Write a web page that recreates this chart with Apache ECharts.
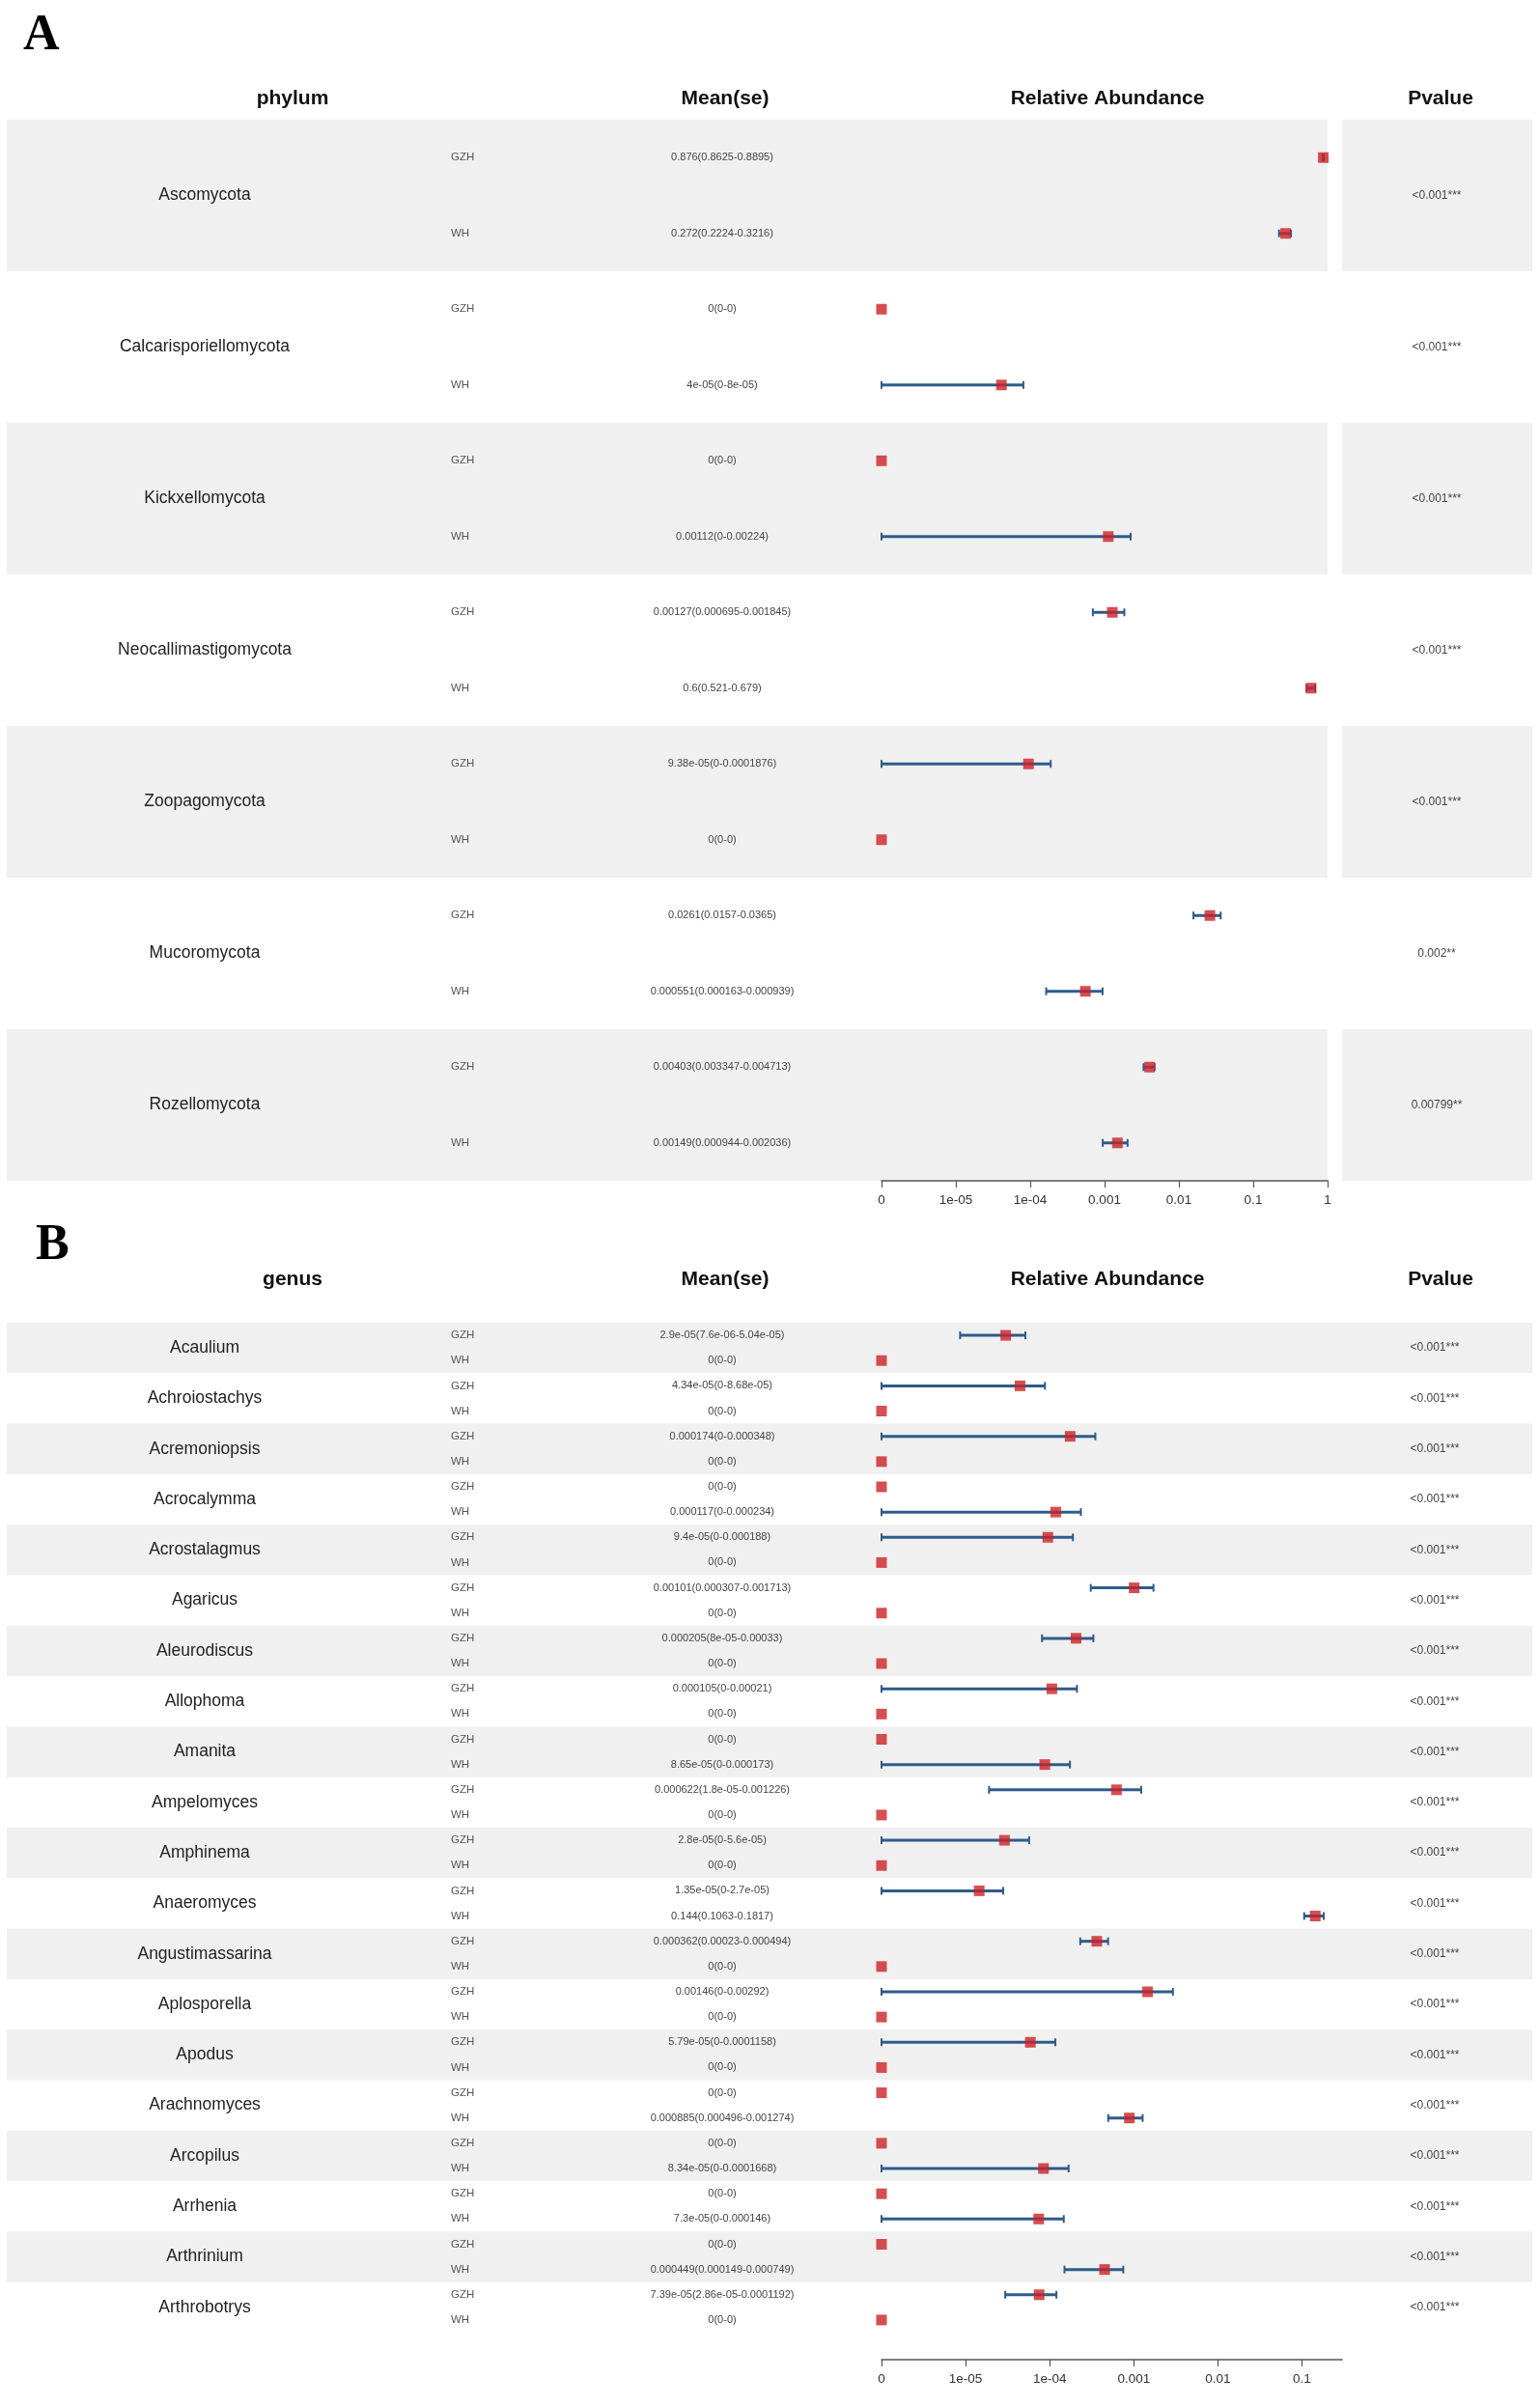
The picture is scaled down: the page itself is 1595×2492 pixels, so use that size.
<!DOCTYPE html>
<html>
<head>
<meta charset="utf-8">
<script src="https://cdn.jsdelivr.net/npm/echarts@6/dist/echarts.min.js"></script>
<style>
html,body{margin:0;padding:0;background:#fff;}
#chart{width:1595px;height:2492px;}
</style>
</head>
<body>
<div id="chart"></div>
<script>
// ---------- Panel A data (phylum) ----------
const phyla = ['Ascomycota','Calcarisporiellomycota','Kickxellomycota','Neocallimastigomycota','Zoopagomycota','Mucoromycota','Rozellomycota'];
const phylumGzhMean = [0.876, 0, 0, 0.00127, 9.38e-05, 0.0261, 0.00403];
const phylumGzhLow  = [0.8625, 0, 0, 0.000695, 0, 0.0157, 0.003347];
const phylumGzhHigh = [0.8895, 0, 0, 0.001845, 0.0001876, 0.0365, 0.004713];
const phylumWhMean  = [0.272, 4e-05, 0.00112, 0.6, 0, 0.000551, 0.00149];
const phylumWhLow   = [0.2224, 0, 0, 0.521, 0, 0.000163, 0.000944];
const phylumWhHigh  = [0.3216, 8e-05, 0.00224, 0.679, 0, 0.000939, 0.002036];
const phylumP = ['<0.001***','<0.001***','<0.001***','<0.001***','<0.001***','0.002**','0.00799**'];

// ---------- Panel B data (genus) ----------
const genera = ['Acaulium','Achroiostachys','Acremoniopsis','Acrocalymma','Acrostalagmus','Agaricus','Aleurodiscus','Allophoma','Amanita','Ampelomyces','Amphinema','Anaeromyces','Angustimassarina','Aplosporella','Apodus','Arachnomyces','Arcopilus','Arrhenia','Arthrinium','Arthrobotrys'];
const genusGzhMean = [2.9e-05, 4.34e-05, 0.000174, 0, 9.4e-05, 0.00101, 0.000205, 0.000105, 0, 0.000622, 2.8e-05, 1.35e-05, 0.000362, 0.00146, 5.79e-05, 0, 0, 0, 0, 7.39e-05];
const genusGzhLow  = [7.6e-06, 0, 0, 0, 0, 0.000307, 8e-05, 0, 0, 1.8e-05, 0, 0, 0.00023, 0, 0, 0, 0, 0, 0, 2.86e-05];
const genusGzhHigh = [5.04e-05, 8.68e-05, 0.000348, 0, 0.000188, 0.001713, 0.00033, 0.00021, 0, 0.001226, 5.6e-05, 2.7e-05, 0.000494, 0.00292, 0.0001158, 0, 0, 0, 0, 0.0001192];
const genusWhMean  = [0, 0, 0, 0.000117, 0, 0, 0, 0, 8.65e-05, 0, 0, 0.144, 0, 0, 0, 0.000885, 8.34e-05, 7.3e-05, 0.000449, 0];
const genusWhLow   = [0, 0, 0, 0, 0, 0, 0, 0, 0, 0, 0, 0.1063, 0, 0, 0, 0.000496, 0, 0, 0.000149, 0];
const genusWhHigh  = [0, 0, 0, 0.000234, 0, 0, 0, 0, 0.000173, 0, 0, 0.1817, 0, 0, 0, 0.001274, 0.0001668, 0.000146, 0.000749, 0];
const genusP = genera.map(() => '<0.001***');

// ---------- Axis ticks ----------
const OFFSET = 1e-6; // pseudo-count so zero abundance sits at the axis origin
const tickValuesA = [1e-6, 1e-5, 1e-4, 1e-3, 1e-2, 1e-1, 1];
const tickLabelsA = ['0', '1e-05', '1e-04', '0.001', '0.01', '0.1', '1'];
const tickValuesB = [1e-6, 1e-5, 1e-4, 1e-3, 1e-2, 1e-1];
const tickLabelsB = ['0', '1e-05', '1e-04', '0.001', '0.01', '0.1'];
const groups = ['GZH', 'WH'];

// R-like number formatting (fixed unless scientific is shorter)
function rfmt(v) {
  if (v === 0) return '0';
  const fixed = String(v);
  let sci = v.toExponential().replace(/e([+-])(\d)$/, 'e$10$2');
  return fixed.length <= sci.length ? fixed : sci;
}
function meanText(m, l, h) { return rfmt(m) + '(' + rfmt(l) + '-' + rfmt(h) + ')'; }

const FONT = '"Liberation Sans", Arial, Helvetica, sans-serif';
const BAND = '#f0f0f0';
const BAR = '#2f5b8a';
const PT = '#cc2226';

function tickFormatter(values, labels) {
  return function (v) {
    for (let i = 0; i < values.length; i++) {
      if (Math.abs(Math.log10(v) - Math.log10(values[i])) < 0.01) return labels[i];
    }
    return '';
  };
}

function buildPanel(ax, names, gm, gl, gh, wm, wl, wh, pv, cfg) {
  const series = [];
  // bands + text columns
  series.push({
    type: 'custom', xAxisIndex: ax, yAxisIndex: ax, silent: true, z: 0, clip: false,
    data: names.map((n, i) => [i]),
    renderItem: function (params, api) {
      const i = api.value(0);
      const yTop = api.coord([1, 2 * i])[1];
      const yBot = api.coord([1, 2 * i + 2])[1];
      const yG = api.coord([1, 2 * i + 0.5])[1];
      const yW = api.coord([1, 2 * i + 1.5])[1];
      const yM = (yTop + yBot) / 2;
      const ch = [];
      if (i % 2 === 0) {
        ch.push({ type: 'rect', shape: { x: cfg.bandLeft, y: yTop, width: cfg.bandRight - cfg.bandLeft, height: yBot - yTop }, style: { fill: BAND } });
        if (cfg.pBand) ch.push({ type: 'rect', shape: { x: cfg.pBand[0], y: yTop, width: cfg.pBand[1] - cfg.pBand[0], height: yBot - yTop }, style: { fill: BAND } });
      }
      const t = (text, x, y, size, align, color) => ({
        type: 'text', style: { text: text, x: x, y: y, textAlign: align, textVerticalAlign: 'middle', fontSize: size, fontFamily: FONT, fill: color }
      });
      ch.push(t(names[i], cfg.nameX, yM, 17.5, 'center', '#222'));
      ch.push(t(groups[0], cfg.grpX, yG, 11.5, 'left', '#555'));
      ch.push(t(groups[1], cfg.grpX, yW, 11.5, 'left', '#555'));
      ch.push(t(meanText(gm[i], gl[i], gh[i]), cfg.meanX, yG, 11, 'center', '#444'));
      ch.push(t(meanText(wm[i], wl[i], wh[i]), cfg.meanX, yW, 11, 'center', '#444'));
      ch.push(t(pv[i], cfg.pX, yM, 12, 'center', '#444'));
      return { type: 'group', children: ch };
    }
  });
  // error bars
  const bars = [];
  names.forEach((n, i) => {
    if (gh[i] > gl[i]) bars.push([gl[i] + OFFSET, gh[i] + OFFSET, 2 * i + 0.5]);
    if (wh[i] > wl[i]) bars.push([wl[i] + OFFSET, wh[i] + OFFSET, 2 * i + 1.5]);
  });
  series.push({
    type: 'custom', xAxisIndex: ax, yAxisIndex: ax, silent: true, z: 2, clip: false,
    encode: { x: [0, 1], y: 2 },
    data: bars,
    renderItem: function (params, api) {
      const a = api.coord([api.value(0), api.value(2)]);
      const b = api.coord([api.value(1), api.value(2)]);
      const cap = 4;
      return { type: 'group', children: [
        { type: 'line', shape: { x1: a[0], y1: a[1], x2: b[0], y2: b[1] }, style: { stroke: BAR, lineWidth: 3 } },
        { type: 'line', shape: { x1: a[0], y1: a[1] - cap, x2: a[0], y2: a[1] + cap }, style: { stroke: BAR, lineWidth: 2 } },
        { type: 'line', shape: { x1: b[0], y1: b[1] - cap, x2: b[0], y2: b[1] + cap }, style: { stroke: BAR, lineWidth: 2 } }
      ] };
    }
  });
  // mean points
  const pts = [];
  names.forEach((n, i) => {
    pts.push([gm[i] + OFFSET, 2 * i + 0.5]);
    pts.push([wm[i] + OFFSET, 2 * i + 1.5]);
  });
  series.push({
    type: 'scatter', xAxisIndex: ax, yAxisIndex: ax, silent: true, z: 3, clip: false,
    symbol: 'rect', symbolSize: 11, itemStyle: { color: PT }, data: pts
  });
  return series;
}

function xAxisCfg(grid, max, values, labels, offset) {
  return {
    gridIndex: grid, type: 'log', logBase: 10, min: 1e-6, max: max, offset: offset, position: 'bottom',
    axisLine: { show: true, onZero: false, lineStyle: { color: '#555', width: 1.5 } },
    axisTick: { show: true, length: 7, customValues: values, lineStyle: { color: '#555', width: 1.2 } },
    axisLabel: { show: true, customValues: values, formatter: tickFormatter(values, labels), fontSize: 13.5, fontFamily: FONT, color: '#333', margin: 13 },
    splitLine: { show: false }, minorTick: { show: false }
  };
}

const rowsA = phyla.length * 2;
const rowsB = genera.length * 2;
const headFont = 'bold 21px ' + FONT;
const panelFont = 'bold 52px "Liberation Serif", "DejaVu Serif", serif';

const option = {
  animation: false,
  backgroundColor: '#ffffff',
  grid: [
    { left: 913, top: 124, width: 462, height: 1099 },
    { left: 913, top: 1370, width: 477, height: 1046 }
  ],
  xAxis: [
    xAxisCfg(0, 1, tickValuesA, tickLabelsA, 0),
    xAxisCfg(1, 0.3, tickValuesB, tickLabelsB, 28)
  ],
  yAxis: [
    { gridIndex: 0, type: 'value', min: 0, max: rowsA, inverse: true, show: false },
    { gridIndex: 1, type: 'value', min: 0, max: rowsB, inverse: true, show: false }
  ],
  graphic: [
    { type: 'text', x: 24, y: 38, style: { text: 'A', font: panelFont, fill: '#000', textVerticalAlign: 'middle' } },
    { type: 'text', x: 37, y: 1291, style: { text: 'B', font: panelFont, fill: '#000', textVerticalAlign: 'middle' } },
    { type: 'text', x: 303, y: 102, style: { text: 'phylum', font: headFont, fill: '#111', textAlign: 'center', textVerticalAlign: 'middle' } },
    { type: 'text', x: 751, y: 102, style: { text: 'Mean(se)', font: headFont, fill: '#111', textAlign: 'center', textVerticalAlign: 'middle' } },
    { type: 'text', x: 1147, y: 102, style: { text: 'Relative Abundance', font: headFont, fill: '#111', textAlign: 'center', textVerticalAlign: 'middle' } },
    { type: 'text', x: 1492, y: 102, style: { text: 'Pvalue', font: headFont, fill: '#111', textAlign: 'center', textVerticalAlign: 'middle' } },
    { type: 'text', x: 303, y: 1325, style: { text: 'genus', font: headFont, fill: '#111', textAlign: 'center', textVerticalAlign: 'middle' } },
    { type: 'text', x: 751, y: 1325, style: { text: 'Mean(se)', font: headFont, fill: '#111', textAlign: 'center', textVerticalAlign: 'middle' } },
    { type: 'text', x: 1147, y: 1325, style: { text: 'Relative Abundance', font: headFont, fill: '#111', textAlign: 'center', textVerticalAlign: 'middle' } },
    { type: 'text', x: 1492, y: 1325, style: { text: 'Pvalue', font: headFont, fill: '#111', textAlign: 'center', textVerticalAlign: 'middle' } }
  ],
  series: [].concat(
    buildPanel(0, phyla, phylumGzhMean, phylumGzhLow, phylumGzhHigh, phylumWhMean, phylumWhLow, phylumWhHigh, phylumP,
      { bandLeft: 7, bandRight: 1375, pBand: [1390, 1587], nameX: 212, grpX: 467, meanX: 748, pX: 1488 }),
    buildPanel(1, genera, genusGzhMean, genusGzhLow, genusGzhHigh, genusWhMean, genusWhLow, genusWhHigh, genusP,
      { bandLeft: 7, bandRight: 1587, pBand: null, nameX: 212, grpX: 467, meanX: 748, pX: 1486 })
  )
};

const chart = echarts.init(document.getElementById('chart'), null, { renderer: 'canvas' });
chart.setOption(option);
</script>
</body>
</html>
